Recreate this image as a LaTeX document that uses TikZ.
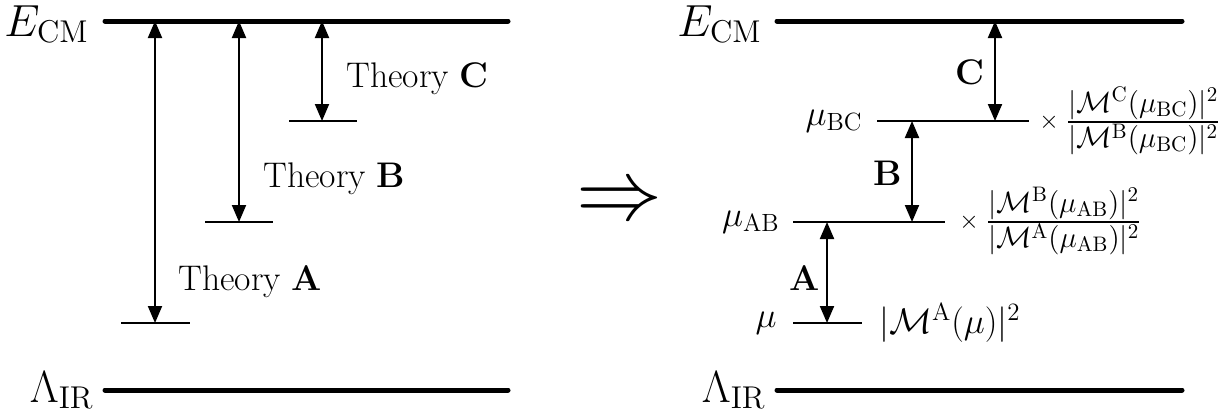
\RequirePackage{fix-cm}
\documentclass[tikz,border=0pt]{standalone}
\usepackage{amsmath}
\usetikzlibrary{arrows.meta}
\tikzset{
  thickline/.style={line width=2.5pt, line cap=round},
  thinline/.style={line width=1pt},
  dblarrow/.style={line width=1pt, {Triangle[length=8.5pt,width=7pt]}-{Triangle[length=8.5pt,width=7pt]}},
  lbl/.style={inner sep=0pt, font=\fontsize{17.8}{21}\selectfont},
  fraclbl/.style={inner sep=0pt, font=\fontsize{21}{25}\selectfont},
  biglbl/.style={inner sep=0pt, font=\fontsize{22.5}{27}\selectfont},
}
\newcommand{\smalltimes}{\raisebox{2.25pt}{\fontsize{12.5}{15}\selectfont$\times$}\hspace{3.5pt}}
\begin{document}
\begin{tikzpicture}[x=0.5pt,y=-0.5pt]
\useasboundingbox (0,0) rectangle (1225,412);
% ---------- left panel ----------
\node[biglbl, anchor=base east] (ecmL) at (89,36) {$E_{\mathrm{CM}}$};
\node[biglbl, anchor=base east] (lirL) at (94,402) {$\Lambda_{\mathrm{IR}}$};
\coordinate (topL1) at (105,21);
\coordinate (topL2) at (508,21);
\coordinate (botL1) at (105,390);
\coordinate (botL2) at (508,390);
\draw[thickline] (topL1) -- (topL2);
\draw[thickline] (botL1) -- (botL2);
% short levels
\coordinate (lvA1) at (121,323); \coordinate (lvA2) at (190,323);
\coordinate (lvB1) at (205,222); \coordinate (lvB2) at (273,222);
\coordinate (lvC1) at (289,121); \coordinate (lvC2) at (357,121);
\draw[thinline] (lvA1) -- (lvA2);
\draw[thinline] (lvB1) -- (lvB2);
\draw[thinline] (lvC1) -- (lvC2);
% arrows
\coordinate (arAt) at (155,21); \coordinate (arAb) at (155,323);
\coordinate (arBt) at (239,21); \coordinate (arBb) at (239,222);
\coordinate (arCt) at (322,21); \coordinate (arCb) at (322,121);
\draw[dblarrow] (arAt) -- (arAb);
\draw[dblarrow] (arBt) -- (arBb);
\draw[dblarrow] (arCt) -- (arCb);
\node[lbl, anchor=base west] (thC) at (346,87) {Theory \textbf{C}};
\node[lbl, anchor=base west] (thB) at (263,187) {Theory \textbf{B}};
\node[lbl, anchor=base west] (thA) at (178,290) {Theory \textbf{A}};
% ---------- implication ----------
\node[inner sep=0pt, font=\fontsize{43}{44}\selectfont] (impl) at (619,204) {$\Rightarrow$};
% ---------- right panel ----------
\node[biglbl, anchor=base east] (ecmR) at (762,36) {$E_{\mathrm{CM}}$};
\node[biglbl, anchor=base east] (lirR) at (766,402) {$\Lambda_{\mathrm{IR}}$};
\coordinate (topR1) at (777,21);
\coordinate (topR2) at (1182,21);
\coordinate (botR1) at (777,390);
\coordinate (botR2) at (1182,390);
\draw[thickline] (topR1) -- (topR2);
\draw[thickline] (botR1) -- (botR2);
\coordinate (bc1) at (877,121); \coordinate (bc2) at (1029,121);
\coordinate (ab1) at (793,222); \coordinate (ab2) at (945,222);
\coordinate (mu1) at (793,323); \coordinate (mu2) at (862,323);
\draw[thinline] (bc1) -- (bc2);
\draw[thinline] (ab1) -- (ab2);
\draw[thinline] (mu1) -- (mu2);
\coordinate (rCt) at (995,21);  \coordinate (rCb) at (995,121);
\coordinate (rBt) at (912,121); \coordinate (rBb) at (912,222);
\coordinate (rAt) at (827,222); \coordinate (rAb) at (827,323);
\draw[dblarrow] (rCt) -- (rCb);
\draw[dblarrow] (rBt) -- (rBb);
\draw[dblarrow] (rAt) -- (rAb);
\node[lbl] (lC) at (970,72) {\textbf{C}};
\node[lbl] (lB) at (888,173) {\textbf{B}};
\node[lbl] (lA) at (805,278) {\textbf{A}};
\node[lbl, anchor=east] (muBC) at (863,121) {$\mu_{\mathrm{BC}}$};
\node[lbl, anchor=east] (muAB) at (780,222) {$\mu_{\mathrm{AB}}$};
\node[lbl, anchor=east] (muL) at (777,323) {$\mu$};
\node[fraclbl, anchor=west] (fBC) at (1039,121) {\smalltimes$\frac{|\mathcal{M}^{\mathrm{C}}(\mu_{\mathrm{BC}})|^2}{|\mathcal{M}^{\mathrm{B}}(\mu_{\mathrm{BC}})|^2}$};
\node[fraclbl, anchor=west] (fAB) at (959,221) {\smalltimes$\frac{|\mathcal{M}^{\mathrm{B}}(\mu_{\mathrm{AB}})|^2}{|\mathcal{M}^{\mathrm{A}}(\mu_{\mathrm{AB}})|^2}$};
\node[lbl, anchor=west] (fA) at (879,323) {$|\mathcal{M}^{\mathrm{A}}(\mu)|^2$};
\end{tikzpicture}
\end{document}
